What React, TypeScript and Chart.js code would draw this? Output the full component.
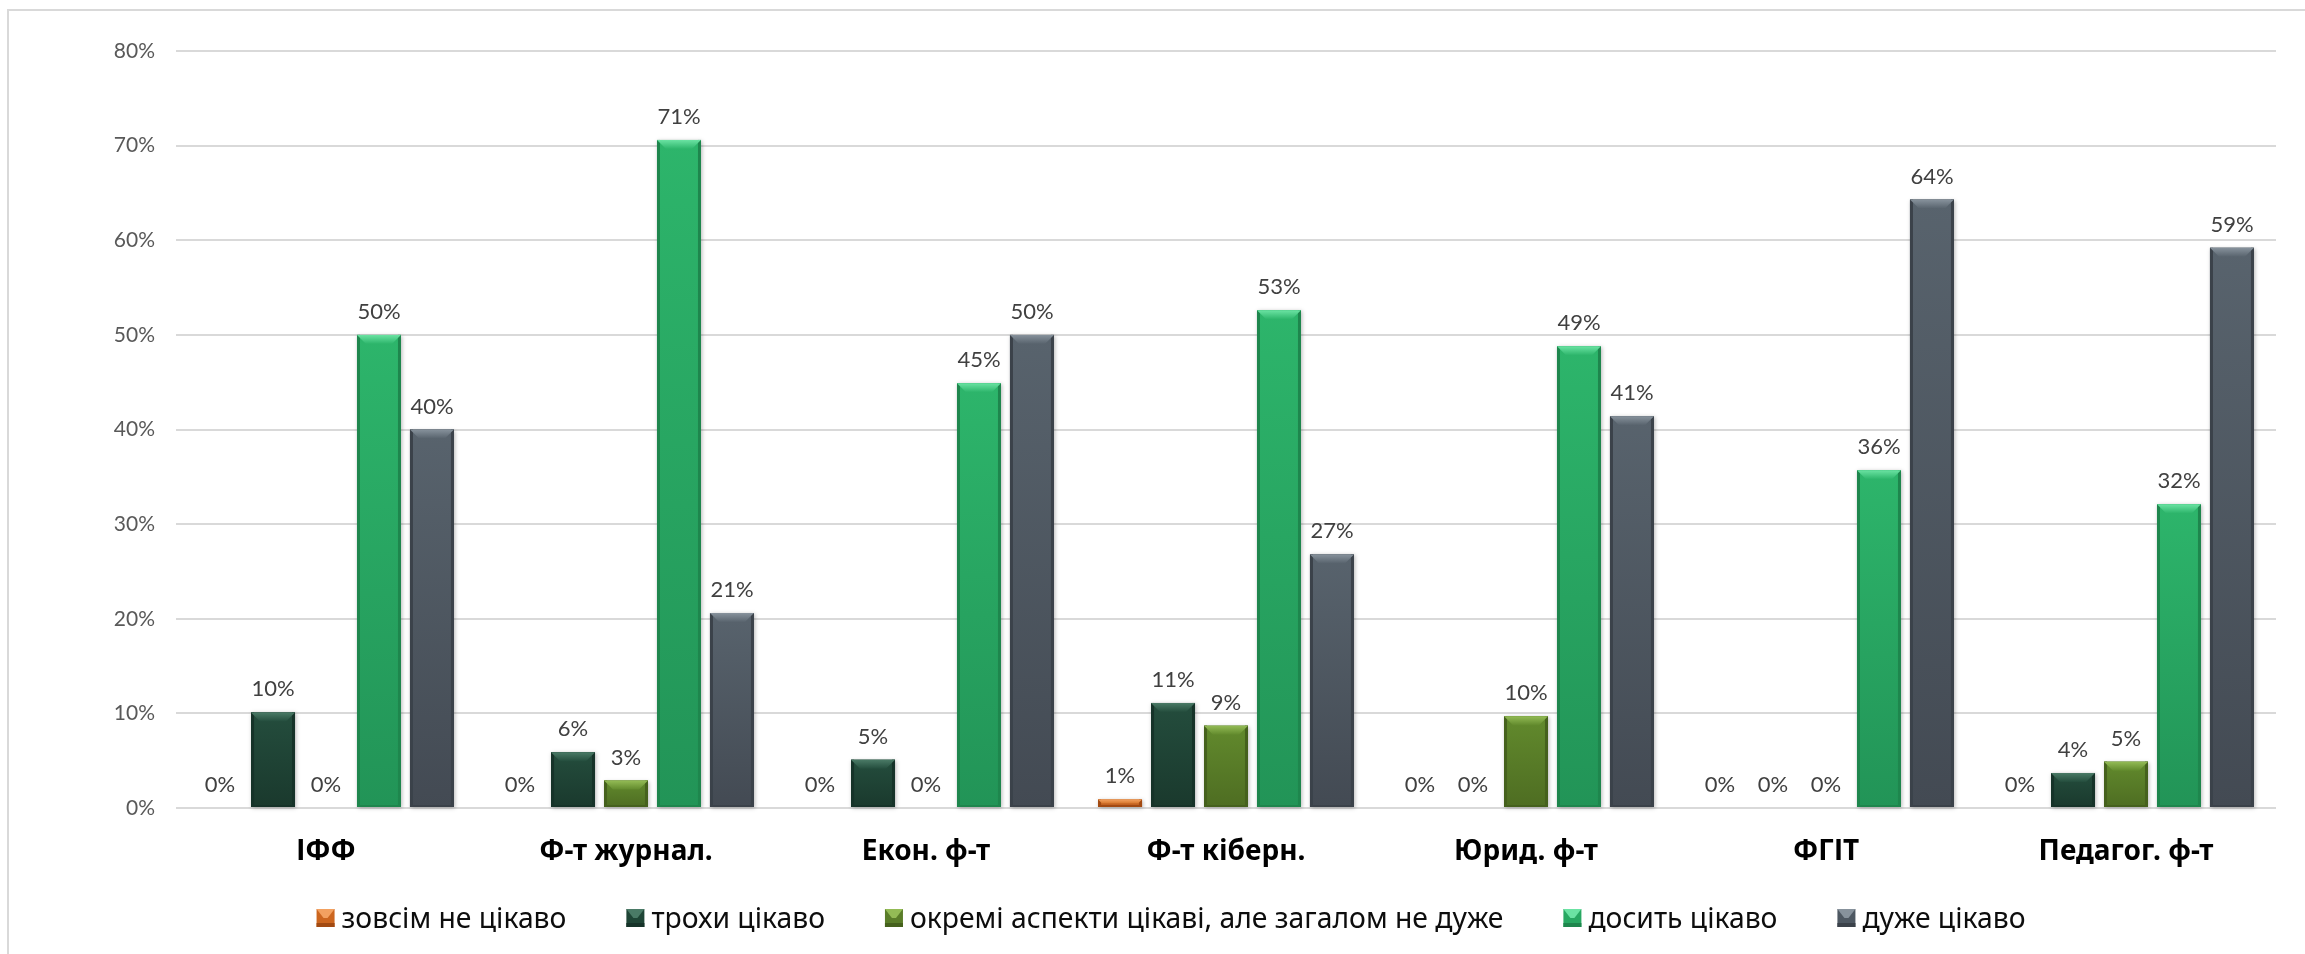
import React, { useEffect, useRef } from "react";
import { Chart, registerables } from "chart.js";

Chart.register(...registerables);

// ---- data ----
const categories = ["ІФФ", "Ф-т журнал.", "Екон. ф-т", "Ф-т кіберн.", "Юрид. ф-т", "ФГІТ", "Педагог. ф-т"];
const seriesNames = [
  "зовсім не цікаво",
  "трохи цікаво",
  "окремі аспекти цікаві, але загалом не дуже",
  "досить цікаво",
  "дуже цікаво",
];
const notInteresting = [0, 0, 0, 0.9, 0, 0, 0];
const slightlyInteresting = [10.1, 5.9, 5.1, 11.1, 0, 0, 3.7];
const someAspects = [0, 2.9, 0, 8.7, 9.7, 0, 4.9];
const fairlyInteresting = [50, 70.6, 44.9, 52.6, 48.8, 35.7, 32.1];
const veryInteresting = [40, 20.6, 50, 26.8, 41.4, 64.3, 59.2];
const yMax = 80;
const yStep = 10;

// ---- styles ----
const PALETTE = [
  { body: "#cc661f", top: "#d87a30", bottom: "#b8561a", light: "#f3a160", side: "#a24a12" },
  { body: "#1f4536", top: "#244d3d", bottom: "#1a392d", light: "#4a7a66", side: "#163329" },
  { body: "#5a7d29", top: "#628a2d", bottom: "#4e6d22", light: "#93bb55", side: "#45611d" },
  { body: "#28a862", top: "#2db56b", bottom: "#229457", light: "#6be3a3", side: "#1e864d" },
  { body: "#4e5862", top: "#58636d", bottom: "#434a53", light: "#87929c", side: "#3b424a" },
];

const W = 2305;
const H = 954;

const chromePlugin = {
  id: "chrome",
  beforeDraw(chart: any) {
    const ctx = chart.ctx;
    ctx.save();
    ctx.fillStyle = "#ffffff";
    ctx.fillRect(0, 0, chart.width, chart.height);
    ctx.strokeStyle = "#d9d9d9";
    ctx.lineWidth = 2;
    ctx.beginPath();
    ctx.moveTo(8, chart.height);
    ctx.lineTo(8, 10);
    ctx.lineTo(chart.width, 10);
    ctx.stroke();
    ctx.restore();
  },
};

const bevelPlugin = {
  id: "bevelBars",
  afterDatasetsDraw(chart: any) {
    const ctx = chart.ctx;
    chart.data.datasets.forEach((ds: any, di: number) => {
      const meta = chart.getDatasetMeta(di);
      const pal = PALETTE[di];
      meta.data.forEach((el: any) => {
        const { x, y, base, width } = el.getProps(["x", "y", "base", "width"], true);
        const h = base - y;
        if (h < 0.5) return;
        const l = x - width / 2;
        const r = x + width / 2;
        ctx.save();
        ctx.shadowColor = "rgba(0,0,0,0.28)";
        ctx.shadowBlur = 4;
        ctx.shadowOffsetX = 1;
        ctx.shadowOffsetY = 1;
        const g = ctx.createLinearGradient(0, y, 0, base);
        g.addColorStop(0, pal.top);
        g.addColorStop(1, pal.bottom);
        ctx.fillStyle = g;
        ctx.fillRect(l, y, width, h);
        ctx.restore();

        const b = Math.min(9, h / 2);
        const s = Math.min(3, h / 2);
        ctx.save();
        ctx.fillStyle = pal.side;
        ctx.fillRect(l, y, s, h);
        ctx.fillRect(r - s, y, s, h);
        ctx.fillRect(l, base - Math.min(2, h / 3), width, Math.min(2, h / 3));
        const tg = ctx.createLinearGradient(0, y, 0, y + b);
        tg.addColorStop(0, pal.light);
        tg.addColorStop(1, pal.top);
        ctx.fillStyle = tg;
        ctx.beginPath();
        ctx.moveTo(l, y);
        ctx.lineTo(r, y);
        ctx.lineTo(r - b, y + b);
        ctx.lineTo(l + b, y + b);
        ctx.closePath();
        ctx.fill();
        ctx.restore();
      });
    });
    ctx.save();
    ctx.font = "22px Lato";
    ctx.fillStyle = "#404040";
    ctx.textAlign = "center";
    ctx.textBaseline = "alphabetic";
    chart.data.datasets.forEach((ds: any, di: number) => {
      const meta = chart.getDatasetMeta(di);
      meta.data.forEach((el: any, i: number) => {
        const { x, y } = el.getProps(["x", "y"], true);
        const v = ds.data[i];
        ctx.fillText(`${Math.round(v)}%`, x, y - 16);
      });
    });
    ctx.restore();
  },
};

const legendPlugin = {
  id: "customLegend",
  afterDraw(chart: any) {
    const ctx = chart.ctx;
    const box = 18;
    const gap = 7;
    const spacing = 60;
    const cy = 920;
    ctx.save();
    ctx.font = "28.3px 'Noto Sans'";
    const widths = seriesNames.map((n) => ctx.measureText(n).width);
    const total = widths.reduce((a, w) => a + box + gap + w, 0) + spacing * (seriesNames.length - 1);
    let x = 1171 - total / 2;
    seriesNames.forEach((name, i) => {
      const pal = PALETTE[i];
      const top = 918 - box / 2;
      ctx.fillStyle = pal.body;
      ctx.fillRect(x, top, box, box);
      ctx.fillStyle = pal.side;
      ctx.fillRect(x, top + box - 4, box, 4);
      ctx.fillStyle = pal.light;
      ctx.beginPath();
      ctx.moveTo(x, top);
      ctx.lineTo(x + box, top);
      ctx.lineTo(x + box / 2 + 2, top + box / 2);
      ctx.lineTo(x + box / 2 - 2, top + box / 2);
      ctx.closePath();
      ctx.fill();
      ctx.fillStyle = "#0d0d0d";
      ctx.textAlign = "left";
      ctx.textBaseline = "middle";
      ctx.fillText(name, x + box + gap, cy);
      x += box + gap + widths[i] + spacing;
    });
    ctx.restore();
  },
};

export default function App() {
  const ref = useRef<HTMLCanvasElement | null>(null);

  useEffect(() => {
    if (!ref.current) return;
    const seriesValues = [notInteresting, slightlyInteresting, someAspects, fairlyInteresting, veryInteresting];
    const chart = new Chart(ref.current, {
      type: "bar",
      data: {
        labels: categories,
        datasets: seriesNames.map((name, i) => ({
          label: name,
          data: seriesValues[i],
          backgroundColor: PALETTE[i].body,
          borderWidth: 0,
          categoryPercentage: 0.883,
          barPercentage: 0.83,
        })),
      },
      options: {
        animation: false,
        responsive: false,
        maintainAspectRatio: false,
        layout: { padding: { left: 0, right: 29, top: 51, bottom: 0 } },
        plugins: {
          legend: { display: false },
          tooltip: { enabled: false },
        },
        scales: {
          x: {
            afterFit: (s: any) => {
              s.height = 146;
            },
            grid: { display: false, drawTicks: false },
            border: { display: false },
            ticks: {
              color: "#000000",
              font: { family: "'Noto Sans'", size: 28, weight: "bold" },
              padding: 27,
              maxRotation: 0,
            },
          },
          y: {
            min: 0,
            max: yMax,
            afterFit: (s: any) => {
              s.width = 176;
            },
            grid: { color: "#d9d9d9", lineWidth: 2, drawTicks: false },
            border: { display: false },
            ticks: {
              stepSize: yStep,
              color: "#595959",
              font: { family: "Lato", size: 21 },
              padding: 21,
              callback: (v: any) => `${v}%`,
            },
          },
        },
      },
      plugins: [chromePlugin, bevelPlugin, legendPlugin],
    });
    return () => chart.destroy();
  }, []);

  return (
    <div style={{ position: "fixed", left: 0, top: 0, width: W, height: H, background: "#fff" }}>
      <canvas ref={ref} width={W} height={H} style={{ width: W, height: H, display: "block" }} />
    </div>
  );
}
